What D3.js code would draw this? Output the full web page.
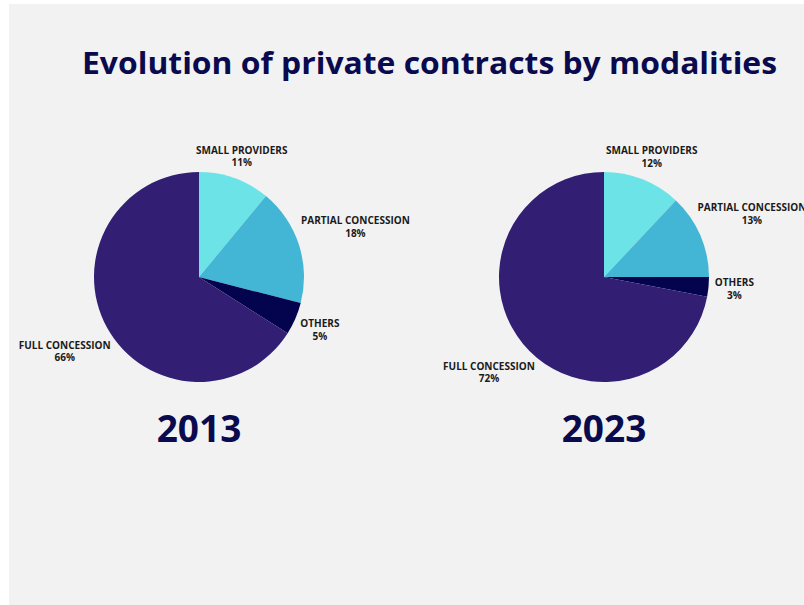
<!DOCTYPE html>
<html>
<head>
<meta charset="utf-8">
<script src="https://cdn.jsdelivr.net/npm/d3@7"></script>
<style>
  html, body { margin: 0; padding: 0; background: #ffffff; }
  svg { display: block; }
</style>
</head>
<body>
<svg id="chart" width="804" height="605"></svg>
<script>
// Contract modalities and their shares (%) for each year
const categories = ["SMALL PROVIDERS", "PARTIAL CONCESSION", "OTHERS", "FULL CONCESSION"];
const years = ["2013", "2023"];
const shares2013 = [11, 18, 5, 66];
const shares2023 = [12, 13, 3, 72];

const titleText = "Evolution of private contracts by modalities";

const colors = d3.scaleOrdinal()
  .domain(categories)
  .range(["#6ce3e6", "#42b6d4", "#03034e", "#321f73"]);

const W = 804, H = 605;
const svg = d3.select("#chart");

// panel background
svg.append("rect")
  .attr("x", 9).attr("y", 4)
  .attr("width", W - 9).attr("height", H - 4)
  .attr("fill", "#f2f2f2");

svg.append("text")
  .attr("x", 82).attr("y", 74)
  .attr("textLength", 695)
  .attr("lengthAdjust", "spacingAndGlyphs")
  .attr("font-family", "'Open Sans', sans-serif")
  .attr("font-weight", 700)
  .attr("font-size", 30)
  .attr("fill", "#0a0a4e")
  .text(titleText);

const radius = 105;
const pie = d3.pie().sort(null).value(d => d.value);
const arc = d3.arc().innerRadius(0).outerRadius(radius);
const labelRadius = 135;

// small hand nudges so labels sit clear of neighbouring slices
const labelNudge = {
  "2013": { "SMALL PROVIDERS": [-3, 6], "PARTIAL CONCESSION": [28, -9], "OTHERS": [-3, -1], "FULL CONCESSION": [-16, 9] },
  "2023": { "SMALL PROVIDERS": [-2, 5], "PARTIAL CONCESSION": [24, -10], "OTHERS": [-4, -1], "FULL CONCESSION": [-11, 9] }
};

const panels = [
  { year: years[0], values: shares2013, cx: 199 },
  { year: years[1], values: shares2023, cx: 604 }
];
const cy = 277;

panels.forEach(p => {
  const data = categories.map((c, i) => ({ name: c, value: p.values[i] }));
  const g = svg.append("g").attr("transform", `translate(${p.cx},${cy})`);

  const arcs = pie(data);
  g.selectAll("path.slice")
    .data(arcs)
    .join("path")
    .attr("class", "slice")
    .attr("d", arc)
    .attr("fill", d => colors(d.data.name));

  const lab = g.selectAll("g.lab")
    .data(arcs)
    .join("g")
    .attr("class", "lab")
    .attr("transform", d => {
      const a = (d.startAngle + d.endAngle) / 2;
      const n = labelNudge[p.year][d.data.name];
      const x = Math.sin(a) * labelRadius + n[0];
      const y = -Math.cos(a) * labelRadius + n[1];
      return `translate(${x},${y})`;
    });

  lab.append("text")
    .attr("text-anchor", "middle")
    .attr("dominant-baseline", "central")
    .attr("y", -6.25)
    .attr("font-family", "'Open Sans', sans-serif")
    .attr("font-weight", 700)
    .attr("font-size", 10)
    .attr("fill", "#1a1a1a")
    .text(d => d.data.name);

  lab.append("text")
    .attr("text-anchor", "middle")
    .attr("dominant-baseline", "central")
    .attr("y", 6.25)
    .attr("font-family", "'Open Sans', sans-serif")
    .attr("font-weight", 700)
    .attr("font-size", 10)
    .attr("fill", "#1a1a1a")
    .text(d => d.data.value + "%");

  svg.append("text")
    .attr("x", p.cx)
    .attr("y", 442)
    .attr("text-anchor", "middle")
    .attr("font-family", "'Open Sans', sans-serif")
    .attr("font-weight", 700)
    .attr("font-size", 37)
    .attr("fill", "#0a0a4e")
    .text(p.year);
});
</script>
</body>
</html>
